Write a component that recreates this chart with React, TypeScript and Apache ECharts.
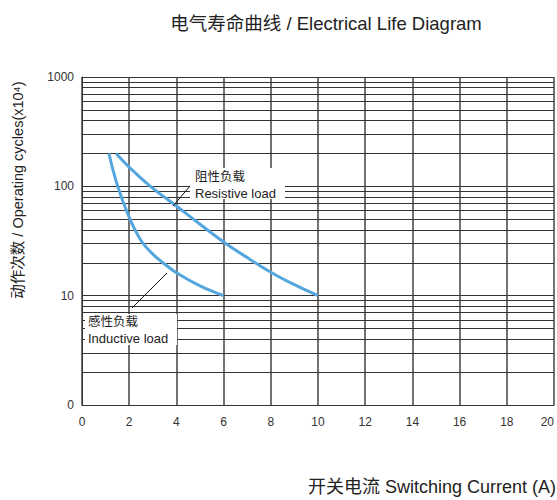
import React, { useEffect, useRef } from "react";
import * as echarts from "echarts";

const titleText = "电气寿命曲线 / Electrical Life Diagram";
const xAxisName = "开关电流 Switching Current (A)";
const yAxisName = "动作次数 / Operating cycles(x10⁴)";

const xMin = 0;
const xMax = 20;
const xInterval = 2;
const yMin = 1;
const yMax = 1000;
const yTickLabels: Record<number, string> = { 1: "0", 10: "10", 100: "100", 1000: "1000" };
const minorGridValues = [
  2, 3, 4, 5, 6, 7, 8, 9,
  20, 30, 40, 50, 60, 70, 80, 90,
  200, 300, 400, 500, 600, 700, 800, 900,
];

const resistiveCurrent = [1.45, 2, 2.9, 4, 5, 6, 7, 8, 9, 10];
const resistiveCycles = [200, 150, 100, 66, 45, 31, 22.3, 16.4, 12.6, 10];
const inductiveCurrent = [1.14, 1.5, 2, 2.5, 3, 3.5, 4, 5, 6];
const inductiveCycles = [200, 102, 52, 32, 24, 19.5, 16.2, 12.3, 10];

const resistiveLabel = ["阻性负载", "Resistive load"];
const inductiveLabel = ["感性负载", "Inductive load"];

const FONT = "'Liberation Sans', Arial, 'Noto Sans CJK SC', sans-serif";
const CURVE_COLOR = "#55a6dd";

export default function App() {
  const ref = useRef<HTMLDivElement>(null);
  useEffect(() => {
    document.body.style.margin = "0";
    if (!ref.current) return;
    const chart = echarts.init(ref.current, null, { renderer: "svg" });
    const zip = (xs: number[], ys: number[]) => xs.map((x, i) => [x, ys[i]]);
    chart.setOption({
      animation: false,
      textStyle: { fontFamily: FONT },
      title: {
        text: titleText,
        left: 321,
        top: 9,
        textAlign: "center",
        textStyle: { fontFamily: FONT, fontSize: 18.5, fontWeight: "normal", color: "#222" },
      },
      grid: { left: 82, right: 1, top: 77, bottom: 95 },
      xAxis: {
        type: "value",
        min: xMin,
        max: xMax,
        interval: xInterval,
        axisLine: { show: true, lineStyle: { color: "#333", width: 1 } },
        axisTick: { show: false },
        axisLabel: { color: "#333", fontSize: 12, margin: 11, fontFamily: FONT, alignMaxLabel: "right" },
        splitLine: { show: true, lineStyle: { color: "#444", width: 1.5 } },
      },
      yAxis: {
        type: "log",
        logBase: 10,
        min: yMin,
        max: yMax,
        axisLine: { show: true, lineStyle: { color: "#333", width: 1 } },
        axisTick: { show: false },
        axisLabel: {
          color: "#333",
          fontSize: 12,
          margin: 8,
          fontFamily: FONT,
          formatter: (v: number) => yTickLabels[Math.round(v)] ?? "",
        },
        splitLine: { show: true, lineStyle: { color: "#333", width: 1 } },
      },
      series: [
        {
          type: "line",
          data: [],
          silent: true,
          markLine: {
            silent: true,
            symbol: "none",
            label: { show: false },
            lineStyle: { color: "#333", width: 1, type: "solid" },
            data: minorGridValues.map((v) => ({ yAxis: v })),
          },
        },
        {
          name: "Resistive load",
          type: "line",
          smooth: 0.4,
          symbol: "none",
          lineStyle: { color: CURVE_COLOR, width: 3 },
          data: zip(resistiveCurrent, resistiveCycles),
          z: 5,
        },
        {
          name: "Inductive load",
          type: "line",
          smooth: 0.4,
          symbol: "none",
          lineStyle: { color: CURVE_COLOR, width: 3 },
          data: zip(inductiveCurrent, inductiveCycles),
          z: 5,
        },
      ],
      graphic: [
        { type: "rect", z: 100, shape: { x: 190, y: 168, width: 95, height: 31 }, style: { fill: "#fff" } },
        { type: "rect", z: 100, shape: { x: 85, y: 314, width: 92, height: 31 }, style: { fill: "#fff" } },
        {
          type: "text", z: 101, x: 195, y: 177,
          style: { text: resistiveLabel[0], fontSize: 12.5, fontFamily: FONT, fill: "#222", textVerticalAlign: "middle" },
        },
        {
          type: "text", z: 101, x: 195, y: 193,
          style: { text: resistiveLabel[1], fontSize: 13, fontFamily: FONT, fill: "#222", textVerticalAlign: "middle" },
        },
        {
          type: "text", z: 101, x: 88, y: 322,
          style: { text: inductiveLabel[0], fontSize: 12.5, fontFamily: FONT, fill: "#222", textVerticalAlign: "middle" },
        },
        {
          type: "text", z: 101, x: 88, y: 338,
          style: { text: inductiveLabel[1], fontSize: 13, fontFamily: FONT, fill: "#222", textVerticalAlign: "middle" },
        },
        { type: "line", z: 101, shape: { x1: 173, y1: 206, x2: 190, y2: 186 }, style: { stroke: "#111", lineWidth: 1 } },
        { type: "line", z: 101, shape: { x1: 167, y1: 273, x2: 132, y2: 308 }, style: { stroke: "#111", lineWidth: 1 } },
        {
          type: "text", z: 101, x: 18, y: 190, rotation: Math.PI / 2,
          style: { text: yAxisName, fontSize: 14.5, fontFamily: FONT, fill: "#222", textAlign: "center", textVerticalAlign: "middle" },
        },
        {
          type: "text", z: 101, x: 556, y: 487,
          style: { text: xAxisName, fontSize: 18, fontFamily: FONT, fill: "#222", textAlign: "right", textVerticalAlign: "middle" },
        },
      ],
    });
    return () => chart.dispose();
  }, []);
  return <div ref={ref} style={{ width: 557, height: 500 }} />;
}
